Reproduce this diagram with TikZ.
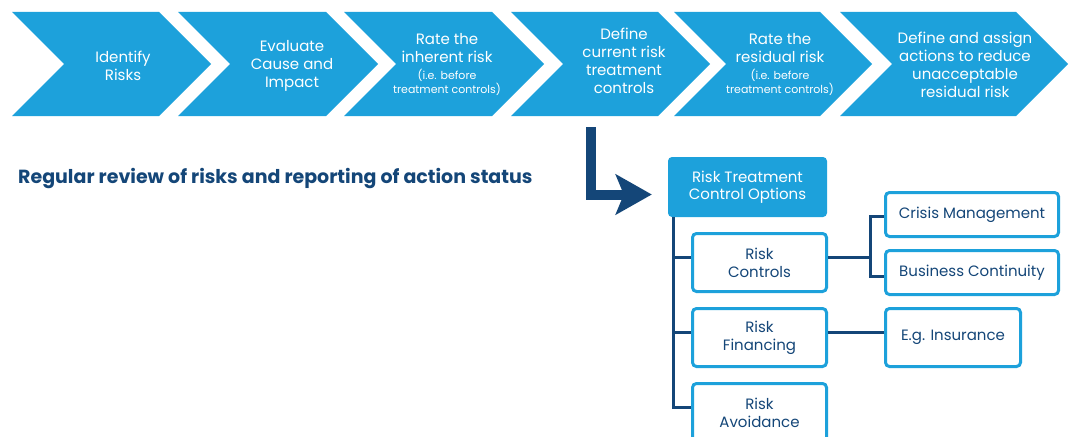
\documentclass[tikz,border=0pt]{standalone}
\usepackage{fontspec}
\setmainfont{Poppins}
\usetikzlibrary{arrows.meta}
\definecolor{lblue}{RGB}{29,161,219}
\definecolor{dblue}{RGB}{20,70,120}
\tikzset{
  chev/.style={fill=lblue},
  chevtext/.style={text=white, align=center, inner sep=0pt, font=\fontsize{15}{18}\selectfont},
  chevsub/.style={text=white, align=center, inner sep=0pt, font=\fontsize{11}{14}\selectfont},
  mainbox/.style={fill=lblue, rounded corners=4pt, text=white, align=center, minimum width=159pt, minimum height=60pt, inner sep=0pt, font=\fontsize{15}{17.5}\selectfont},
  optbox/.style={draw=lblue, line width=3pt, fill=white, rounded corners=4pt, text=dblue, align=center, minimum width=134pt, minimum height=58pt, inner sep=0pt, font=\fontsize{15}{18}\selectfont},
  subbox/.style={draw=lblue, line width=3pt, fill=white, rounded corners=4pt, text=dblue, align=center, minimum height=44pt, inner sep=0pt, font=\fontsize{15}{18}\selectfont},
  conn/.style={draw=dblue, line width=3pt},
  bigarrow/.style={draw=dblue, line width=10pt, line join=miter, -{Stealth[length=36pt, width=40pt, inset=8pt]}, shorten >=16pt},
}
\begin{document}
\begin{tikzpicture}[x=1pt,y=-1pt]
\useasboundingbox (0,0) rectangle (1075,436);
\clip (0,0) rectangle (1075,436);
\fill[white] (0,0) rectangle (1075,436);
% chevrons
\fill[chev] (12,12) -- (159,12) -- (211,64) -- (159,116) -- (12,116) -- (64,64) -- cycle;
\fill[chev] (178,12) -- (326,12) -- (378,64) -- (326,116) -- (178,116) -- (230,64) -- cycle;
\fill[chev] (344,12) -- (492,12) -- (544,64) -- (492,116) -- (344,116) -- (396,64) -- cycle;
\fill[chev] (511,12) -- (658,12) -- (710,64) -- (658,116) -- (511,116) -- (563,64) -- cycle;
\fill[chev] (674,12) -- (820,12) -- (872,64) -- (820,116) -- (674,116) -- (726,64) -- cycle;
\fill[chev] (840,12) -- (1016,12) -- (1068,64) -- (1016,116) -- (840,116) -- (892,64) -- cycle;
% chevron texts
\node[chevtext] (c1) at (123,66) {Identify\\Risks};
\node[chevtext] (c2) at (292,66) {Evaluate\\Cause and\\Impact};
\node[chevtext] (c3) at (447,48) {Rate the\\inherent risk};
\node[chevsub] (c3s) at (447,82) {(i.e. before\\treatment controls)};
\node[chevtext] (c4) at (624,61) {Define\\current risk\\treatment\\controls};
\node[chevtext] (c5) at (780,48) {Rate the\\residual risk};
\node[chevsub] (c5s) at (780,82) {(i.e. before\\treatment controls)};
\node[chevtext] (c6) at (965,64.5) {Define and assign\\actions to reduce\\unacceptable\\residual risk};
% heading
\node[anchor=base west, inner sep=0pt, text=dblue, font=\fontsize{19}{22}\selectfont\bfseries] (head) at (18,183) {Regular review of risks and reporting of action status};
% boxes
\node[mainbox] (rtco) at (747.5,187) {Risk Treatment\\Control Options};
\node[optbox] (rc) at (759.5,262.5) {Risk\\Controls};
\node[optbox] (rf) at (759.5,337.5) {Risk\\Financing};
\node[optbox] (ra) at (759.5,412.5) {Risk\\Avoidance};
\node[subbox, minimum width=173pt] (cm) at (972,214.5) {Crisis Management};
\node[subbox, minimum width=173pt] (bc) at (972,272.5) {Business Continuity};
\node[optbox, minimum width=135pt] (ei) at (953,337.5) {E.g. Insurance};
% big arrow
\coordinate (astart) at (591,127);
\draw[bigarrow] (astart) |- ([yshift=-7.5pt]rtco.west);
% tree connectors
\coordinate (trunk) at ([xshift=6pt]rtco.south west);
\draw[conn] (trunk) |- ([yshift=5pt]ra.west);
\draw[conn] (trunk) |- ([yshift=5pt]rc.west);
\draw[conn] (trunk) |- ([yshift=5pt]rf.west);
\coordinate (fork) at (870,257.5);
\draw[conn] ([yshift=5pt]rc.east) -- (fork);
\draw[conn] ([yshift=-1.5pt]cm.west) -| (fork) |- ([yshift=-3.5pt]bc.west);
\draw[conn] ([yshift=5pt]rf.east) -- ([yshift=5pt]ei.west);
\end{tikzpicture}
\end{document}
